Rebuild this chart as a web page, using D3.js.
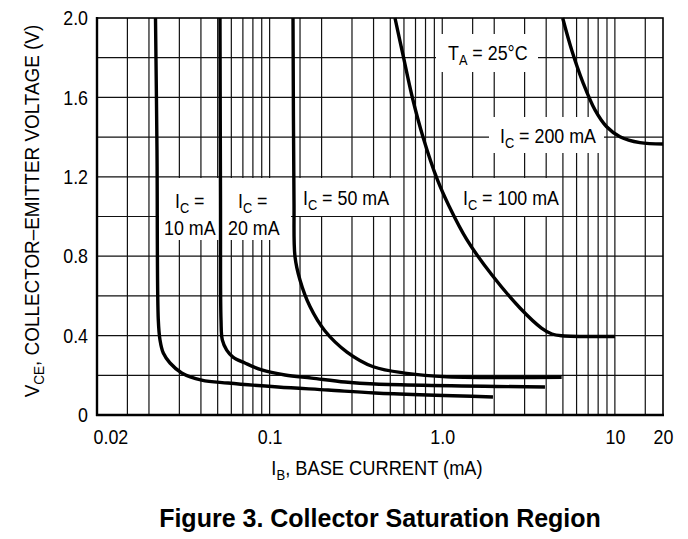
<!DOCTYPE html>
<html><head><meta charset="utf-8">
<script src="https://cdn.jsdelivr.net/npm/d3@7"></script>
<style>
html,body{margin:0;padding:0;background:#fff;}
svg{display:block;}
text{font-family:"Liberation Sans", Arial, Helvetica, sans-serif; fill:#000; white-space:pre;}
</style></head><body>
<svg id="chart" width="688" height="539"></svg>
<script>
// ---------- data ----------
// I_B in mA, V_CE in V
const ic10_ib  = [0.02182, 0.02226, 0.02265, 0.02317, 0.02421, 0.02648, 0.03095, 0.0404, 0.05741, 0.1118, 0.2178, 0.4077, 1.967];
const ic10_vce = [2.0, 1.335, 0.479, 0.378, 0.312, 0.262, 0.212, 0.176, 0.161, 0.141, 0.126, 0.111, 0.091];

const ic20_ib  = [0.05158, 0.05193, 0.05228, 0.0532, 0.0564, 0.06135, 0.07198, 0.08995, 0.1228, 0.1752, 0.2733, 0.4077, 3.936];
const ic20_vce = [2.0, 1.083, 0.479, 0.378, 0.327, 0.292, 0.262, 0.227, 0.2015, 0.186, 0.166, 0.156, 0.141];

const ic50_ib  = [0.1366, 0.1384, 0.1403, 0.1499, 0.1713, 0.2093, 0.2806, 0.3985, 0.6222, 1.061, 4.918];
const ic50_vce = [2.0, 1.083, 0.797, 0.680, 0.546, 0.423, 0.317, 0.243, 0.210, 0.193, 0.190];

const ic100_ib  = [0.5323, 0.5923, 0.6722, 0.7733, 0.9382, 1.094, 1.391, 1.941, 2.820, 3.756, 4.321, 4.938, 10.01];
const ic100_vce = [2.0, 1.814, 1.597, 1.401, 1.184, 1.053, 0.882, 0.705, 0.539, 0.438, 0.408, 0.399, 0.3955];

const ic200_ib  = [4.984, 5.620, 6.559, 7.667, 8.959, 10.70, 13.97, 19.0];
const ic200_vce = [2.0, 1.839, 1.671, 1.537, 1.452, 1.402, 1.372, 1.365];

const xDomain = [0.01, 19];
const yDomain = [0, 2.0];
const xTickValues = [0.01, 0.1, 1, 10, 19];
const xTickLabels = ["0.02", "0.1", "1.0", "10", "20"];
const yTickValues = [0, 0.4, 0.8, 1.2, 1.6, 2.0];
const yTickLabels = ["0", "0.4", "0.8", "1.2", "1.6", "2.0"];
const gridDecades = [0.01, 0.1, 1, 10];
const gridMultipliers = [1, 1.5, 2, 3, 4, 5, 6, 7, 8, 9];
const yGridValues = [0.2, 0.4, 0.6, 0.8, 1.0, 1.2, 1.4, 1.6, 1.8];

// ---------- layout ----------
const L = 97, T = 18, R = 663, B = 415;
const svg = d3.select("#chart");
const x = d3.scaleLog().domain(xDomain).range([L, R]);
const y = d3.scaleLinear().domain(yDomain).range([B, T]);
const SX = 0.85, FS = 21;

function addText(parent, px, py, parts, opt = {}) {
  const size = opt.size || FS;
  const sx = opt.sx || SX;
  const rot = opt.rotate ? ` rotate(${opt.rotate})` : "";
  const t = parent.append("text")
    .attr("transform", `translate(${px},${py})${rot} scale(${sx},1)`)
    .attr("text-anchor", opt.anchor || "start")
    .style("font-size", size + "px")
    .style("font-weight", opt.weight || "normal");
  let cur = 0;
  parts.forEach(p => {
    const isSub = Array.isArray(p);
    const s = isSub ? p[0] : p;
    const want = isSub ? Math.round(size * 0.24) : 0;
    const ts = t.append("tspan").text(s);
    if (want !== cur) ts.attr("dy", want - cur);
    if (isSub) ts.style("font-size", Math.round(size * 0.7) + "px");
    cur = want;
  });
  return t;
}

// ---------- grid ----------
const xGridValues = [];
gridDecades.forEach(d => gridMultipliers.forEach(m => {
  const v = +(d * m).toPrecision(6);
  if (v > xDomain[0] && v < xDomain[1]) xGridValues.push(v);
}));
const grid = svg.append("g").attr("stroke", "#111").attr("stroke-width", 1.2);
grid.selectAll("line.v").data(xGridValues).join("line").attr("class", "v")
  .attr("x1", d => x(d)).attr("x2", d => x(d)).attr("y1", T).attr("y2", B);
grid.selectAll("line.h").data(yGridValues).join("line").attr("class", "h")
  .attr("x1", L).attr("x2", R).attr("y1", d => y(d)).attr("y2", d => y(d));

// ---------- white label backgrounds ----------
const boxes = [
  [159, 178, 219, 240], [222, 178, 291, 240], [297, 178, 398, 216],
  [455, 178, 558, 216], [436, 34, 538, 72], [489, 117, 604, 153]
];
svg.append("g").selectAll("rect").data(boxes).join("rect")
  .attr("x", d => d[0]).attr("y", d => d[1])
  .attr("width", d => d[2] - d[0]).attr("height", d => d[3] - d[1])
  .attr("fill", "#fff");

// ---------- curves ----------
const series = [
  [ic10_ib, ic10_vce], [ic20_ib, ic20_vce], [ic50_ib, ic50_vce],
  [ic100_ib, ic100_vce], [ic200_ib, ic200_vce]
];
const line = d3.line().x(d => x(d[0])).y(d => y(d[1])).curve(d3.curveCatmullRom.alpha(0.5));
svg.append("g").selectAll("path").data(series.map(s => s[0].map((v, i) => [v, s[1][i]])))
  .join("path").attr("d", line).attr("fill", "none").attr("stroke", "#000")
  .attr("stroke-width", 3.4).attr("stroke-linejoin", "round").attr("stroke-linecap", "butt");

// ---------- frame ----------
svg.append("rect").attr("x", L).attr("y", T).attr("width", R - L).attr("height", B - T)
  .attr("fill", "none").attr("stroke", "#000").attr("stroke-width", 1.6);
svg.append("line").attr("x1", L - 1).attr("x2", R + 1).attr("y1", B).attr("y2", B)
  .attr("stroke", "#000").attr("stroke-width", 2.6);
svg.append("line").attr("x1", L).attr("x2", L).attr("y1", T - 1).attr("y2", B + 1)
  .attr("stroke", "#000").attr("stroke-width", 2.4);

// ---------- axes ----------
const gx = svg.append("g").attr("transform", `translate(0,${B})`)
  .call(d3.axisBottom(x).tickValues(xTickValues)
    .tickFormat(d => xTickLabels[xTickValues.indexOf(d)]).tickSize(0).tickPadding(14));
gx.select(".domain").remove();
gx.attr("font-family", null).attr("font-size", null);
gx.selectAll("text").style("font-size", FS + "px").attr("transform", `scale(${SX},1)`);
gx.selectAll(".tick").filter((d, i) => i === 0).select("text")
  .attr("text-anchor", "start").attr("x", -4 / SX);

const gy = svg.append("g").attr("transform", `translate(${L},0)`)
  .call(d3.axisLeft(y).tickValues(yTickValues)
    .tickFormat(d => yTickLabels[yTickValues.indexOf(d)]).tickSize(0).tickPadding(9));
gy.select(".domain").remove();
gy.attr("font-family", null).attr("font-size", null);
gy.selectAll("text").style("font-size", FS + "px")
  .attr("x", -9 / SX).attr("transform", `scale(${SX},1)`);
svg.selectAll(".tick text").attr("fill", "#000");

// ---------- annotations ----------
const ann = svg.append("g");
addText(ann, 175, 208, ["I", ["C"], " ="]);
addText(ann, 164, 235, ["10 mA"]);
addText(ann, 238, 208, ["I", ["C"], " ="]);
addText(ann, 228, 235, ["20 mA"]);
addText(ann, 303, 205, ["I", ["C"], " = 50 mA"]);
addText(ann, 463, 205, ["I", ["C"], " = 100 mA"]);
addText(ann, 448, 60, ["T", ["A"], " = 25°C"]);
addText(ann, 500, 143, ["I", ["C"], " = 200 mA"]);

// axis titles
addText(svg, 377, 475, ["I", ["B"], ", BASE CURRENT (mA)"], { anchor: "middle", sx: 0.87 });
addText(svg, 39, 211, ["V", ["CE"], ", COLLECTOR\u2013EMITTER VOLTAGE (V)"], { anchor: "middle", rotate: -90, sx: 0.9 });

// figure caption
addText(svg, 380, 527, ["Figure 3. Collector Saturation Region"], { anchor: "middle", sx: 1, size: 25, weight: "bold" });
</script>
</body></html>
